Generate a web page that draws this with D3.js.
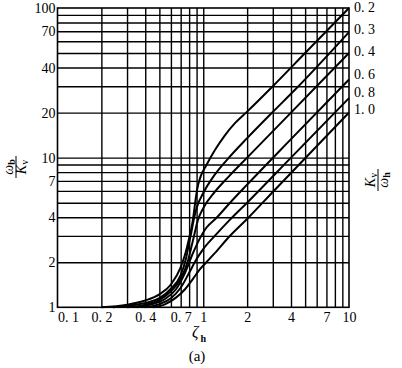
<!DOCTYPE html>
<html><head><meta charset="utf-8">
<script src="https://cdn.jsdelivr.net/npm/d3@7"></script>
<style>
html,body{margin:0;padding:0;background:#fff;}
svg{display:block;}
text{font-family:"Liberation Serif","DejaVu Serif",serif;fill:#000;}
</style></head>
<body>
<svg id="c" width="402" height="368"></svg>
<script>
// ---- data ----
const xTickValues = [0.1, 0.2, 0.4, 0.7, 1, 2, 4, 7, 10];
const xTickLabels = ["0. 1", "0. 2", "0. 4", "0. 7", "1", "2", "4", "7", "10"];
const yTickValues = [1, 2, 4, 7, 10, 20, 40, 70, 100];
const yTickLabels = ["1", "2", "4", "7", "10", "20", "40", "70", "100"];
const xGrid = [0.2,0.3,0.4,0.5,0.6,0.7,0.8,0.9,1,2,3,4,5,6,7,8,9];
const yGrid = [2,3,4,5,6,7,8,9,10,20,30,40,50,60,70,80,90];
const ratioLabels = ["0. 2", "0. 3", "0. 4", "0. 6", "0. 8", "1. 0"];

// curves: [zeta_h, omega_b/Kv] for Kv/omega_h = 0.2 ... 1.0
const curve02 = [[0.2,1],[0.3,1.04],[0.4,1.11],[0.5,1.22],[0.6,1.42],[0.7,1.85],[0.75,2.25],[0.8,2.9],[0.84,3.6],[0.86,4.2],[0.88,5.0],[0.91,6.2],[0.96,7.5],[1.05,8.9],[1.2,11.2],[1.4,14],[1.65,17],[2,20.3],[3,30],[5,50],[10,100]];
const curve03 = [[0.24,1],[0.32,1.03],[0.42,1.08],[0.5,1.15],[0.6,1.33],[0.7,1.64],[0.76,2.1],[0.8,2.7],[0.83,3.2],[0.86,3.84],[0.9,4.6],[1.0,5.8],[1.2,7.7],[1.5,10],[2,13.5],[3,20.2],[4.26,28.4],[10,69]];
const curve04 = [[0.3,1],[0.4,1.04],[0.5,1.12],[0.6,1.28],[0.7,1.55],[0.78,2.0],[0.85,2.8],[0.92,3.84],[1,4.6],[1.2,5.9],[1.5,7.5],[2,10],[4,20],[10,50]];
const curve06 = [[0.35,1],[0.45,1.05],[0.55,1.14],[0.65,1.32],[0.75,1.7],[0.85,2.3],[0.95,2.9],[1.05,3.4],[1.23,3.95],[1.5,4.9],[2,6.6],[4,13.3],[10,33.3]];
const curve08 = [[0.4,1],[0.5,1.05],[0.6,1.15],[0.7,1.35],[0.8,1.7],[0.9,2.1],[1.0,2.45],[1.2,3.0],[1.52,3.84],[2,5.0],[4,10],[10,25]];
const curve10 = [[0.45,1],[0.55,1.05],[0.65,1.16],[0.75,1.32],[0.85,1.55],[0.95,1.8],[1.05,2.0],[1.2,2.3],[1.5,2.95],[2.03,3.95],[3,5.9],[10,20]];
const curves = [curve02, curve03, curve04, curve06, curve08, curve10];

// ---- layout ----
const L = 57.5, R = 349, T = 8, B = 307.3;
const svg = d3.select("#c");
const x = d3.scaleLog().domain([0.1, 10]).range([L, R]);
const y = d3.scaleLog().domain([1, 100]).range([B, T]);

// grid via axes
const gx = svg.append("g").attr("transform", `translate(0,${B})`)
  .call(d3.axisBottom(x).tickValues(xGrid).tickSize(-(B - T)).tickFormat(""));
gx.select(".domain").remove();
gx.selectAll("line").attr("stroke", "#000").attr("stroke-width", 1.4);

const gy = svg.append("g").attr("transform", `translate(${L},0)`)
  .call(d3.axisLeft(y).tickValues(yGrid).tickSize(-(R - L)).tickFormat(""));
gy.select(".domain").remove();
gy.selectAll("line").attr("stroke", "#000").attr("stroke-width", 1.4);

// frame
svg.append("rect").attr("x", L).attr("y", T).attr("width", R - L).attr("height", B - T)
  .attr("fill", "none").attr("stroke", "#000").attr("stroke-width", 1.6);

// tick labels
const ax = svg.append("g").attr("transform", `translate(0,${B})`)
  .call(d3.axisBottom(x).tickValues(xTickValues).tickSize(0).tickPadding(5)
    .tickFormat((d, i) => xTickLabels[i]));
ax.select(".domain").remove();
ax.selectAll("text").attr("font-size", 14)
  .attr("dx", (d, i) => i === 0 ? 10.5 : 0);

const ay = svg.append("g").attr("transform", `translate(${L - 1},0)`)
  .call(d3.axisLeft(y).tickValues(yTickValues).tickSize(0).tickPadding(1)
    .tickFormat((d, i) => yTickLabels[i]));
ay.select(".domain").remove();
ay.selectAll("text").attr("font-size", 14);

// curves
const line = d3.line().x(d => x(d[0])).y(d => y(d[1])).curve(d3.curveMonotoneX);
svg.append("g").selectAll("path").data(curves).join("path")
  .attr("d", line).attr("fill", "none").attr("stroke", "#000").attr("stroke-width", 2);

// right-side ratio labels at curve ends
const labelY = [7, 29, 51, 74, 92, 109];
svg.append("g").selectAll("text").data(ratioLabels).join("text")
  .attr("x", R + 5).attr("y", (d, i) => labelY[i]).attr("dy", "0.35em")
  .attr("font-size", 14).text(d => d);

// x axis title
const xt = svg.append("text").attr("x", 192).attr("y", 337).attr("font-size", 16);
xt.append("tspan").attr("font-style", "italic").text("ζ");
xt.append("tspan").attr("font-size", 10).attr("font-weight", "bold").attr("dy", 5).attr("dx", 2).text("h");
svg.append("text").attr("x", 197).attr("y", 361).attr("text-anchor", "middle").attr("font-size", 15).text("(a)");

// axis titles (fraction, rotated)
function fraction(cx, cy, numMain, numSub, denMain, denSub, subBoldNum, subBoldDen) {
  const g = svg.append("g").attr("transform", `translate(${cx},${cy}) rotate(-90)`);
  const n = g.append("text").attr("x", 0).attr("y", -3).attr("text-anchor", "middle").attr("font-size", 14);
  n.append("tspan").attr("font-style", "italic").text(numMain);
  n.append("tspan").attr("font-size", 10).attr("font-weight", subBoldNum ? "bold" : "normal").attr("dy", 2).text(numSub);
  const d = g.append("text").attr("x", 0).attr("y", 10).attr("text-anchor", "middle").attr("font-size", 14);
  d.append("tspan").attr("font-style", "italic").text(denMain);
  d.append("tspan").attr("font-size", 10).attr("font-weight", subBoldDen ? "bold" : "normal").attr("dy", 2).text(denSub);
  g.append("line").attr("x1", -11).attr("x2", 11).attr("y1", 0).attr("y2", 0).attr("stroke", "#000").attr("stroke-width", 1);
}
fraction(16, 167, "ω", "b", "K", "v", true, false);
fraction(378, 180, "K", "v", "ω", "h", false, true);
</script>
</body></html>
